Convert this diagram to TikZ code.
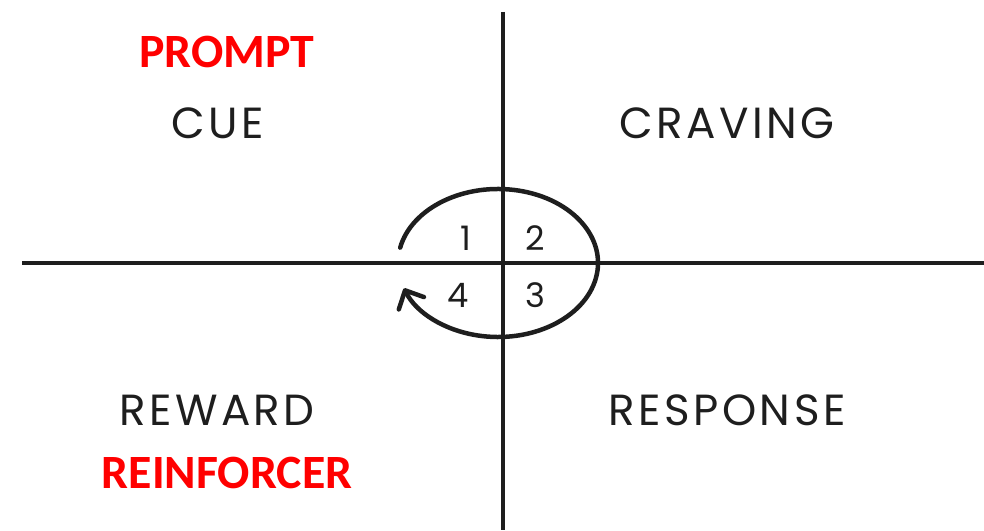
\documentclass[tikz,border=0pt]{standalone}
\usepackage{fontspec}
\setmainfont{Poppins}
\newfontfamily\redfont{Carlito}
\usepackage{xcolor}
\usetikzlibrary{arrows.meta}
\definecolor{loopred}{RGB}{255,0,0}
\definecolor{ink}{RGB}{30,30,30}

\begin{document}
\begin{tikzpicture}[
  >={Straight Barb[length=3.6mm, width=7mm, round]},
  axis/.style={line width=2.6pt, ink},
  stage/.style={font=\fontsize{31}{33}\selectfont\addfontfeature{LetterSpace=8}, text=ink, inner sep=0pt},
  alias/.style={font=\fontsize{34}{37}\redfont\bfseries, text=loopred, inner sep=0pt},
  num/.style={font=\fontsize{24}{26}\selectfont, text=ink, inner sep=0pt},
  loop/.style={->, line width=3.2pt, ink, line cap=round},
]
\useasboundingbox (0,0) rectangle (24.6,13.25);

\coordinate (top) at (12.575,12.95);
\coordinate (bot) at (12.575,0);
\coordinate (lft) at (0.55,6.675);
\coordinate (rgt) at (24.6,6.675);
\coordinate (hub) at (12.45,6.675);

\draw[axis] (top) -- (bot);
\draw[axis] (lft) -- (rgt);

% the habit loop
\draw[loop] ([shift={(168:2.5 and 1.85)}]hub)
  arc[start angle=168, end angle=-160, x radius=2.5, y radius=1.85];

\node[num] (n1) at (11.65,7.3)   {1};
\node[num] (n2) at (13.375,7.3)  {2};
\node[num] (n3) at (13.375,5.875) {3};
\node[num] (n4) at (11.45,5.875) {4};

\node[stage] (cue)  at (5.45,10.175)  {CUE};
\node[stage] (crav) at (18.175,10.175) {CRAVING};
\node[stage] (resp) at (18.175,3.0)   {RESPONSE};
\node[stage] (rew)  at (5.425,3.0)    {REWARD};

\node[alias] (prompt) at (5.675,11.95) {PROMPT};
\node[alias] (reinf)  at (5.675,1.425) {REINFORCER};
\end{tikzpicture}
\end{document}
